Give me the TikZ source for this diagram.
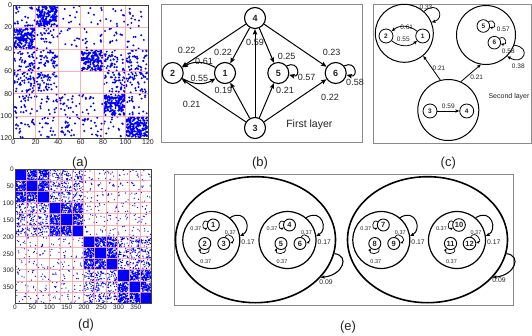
\documentclass[tikz,border=0pt]{standalone}
\usepackage{fontspec}
\setmainfont{Liberation Sans}
\usepackage{xcolor}
\usepackage{tikz}
\usetikzlibrary{arrows.meta,shapes.geometric}
\definecolor{DotBlue}{HTML}{0000FF}
\definecolor{GridRed}{HTML}{FF9C9C}
\definecolor{FrameGray}{HTML}{8A8A8A}
\definecolor{TextDark}{HTML}{222222}
\newcommand{\fsz}[1]{\fontsize{#1}{#1}\selectfont}

\begin{document}
\begin{tikzpicture}[x=1pt, y=1pt,
  every node/.style={text=TextDark},
  frame/.style={draw=FrameGray, line width=0.8pt},
  axis/.style={draw=black!75, line width=0.6pt},
  grid/.style={draw=GridRed, line width=0.6pt, draw opacity=0.8},
  tick/.style={font=\fsz{7}, inner sep=1pt},
  plab/.style={font=\fsz{13}},
  BN/.style={circle, draw, line width=1.1pt, minimum size=21pt,
             inner sep=0pt, font=\fsz{9}\bfseries},
  CG/.style={circle, draw, line width=1pt, inner sep=0pt},
  CN/.style={circle, draw, line width=0.8pt, minimum size=14pt,
             inner sep=0pt, font=\fsz{6.5}\bfseries},
  EE/.style={ellipse, draw, line width=1.6pt, minimum width=160pt,
             minimum height=126pt, inner sep=0pt},
  EG/.style={circle, draw, line width=1.2pt, minimum size=57pt, inner sep=0pt},
  EN/.style={circle, draw, line width=0.9pt, minimum size=12pt,
             inner sep=1pt, font=\fsz{7.5}\bfseries},
  arr/.style={-{Stealth[length=5.5pt,width=4.5pt,inset=1pt]}, line width=1pt},
  sarr/.style={-{Stealth[length=3.8pt,width=3.2pt,inset=0.6pt]}, line width=0.8pt},
  tarr/.style={-{Stealth[length=2.8pt,width=2.6pt,inset=0.4pt]}, line width=0.7pt},
  blab/.style={font=\fsz{9}},
  clab/.style={font=\fsz{6.5}},
  elab/.style={font=\fsz{6.8}},
  slab/.style={font=\fsz{5.5}, inner sep=0.5pt},
  dot/.style={fill=DotBlue},
]
  \useasboundingbox (0,0) rectangle (532,335);
  \pgfmathsetseed{17}

  % (a) block matrix, 6 x 6 blocks of 20
  \begin{scope}[shift={(13.3,330)}, x=1.1225pt, y=-1.1083pt]
    \foreach \row [count=\i from 0] in {{25,170,10,8,10,12},{170,25,12,12,12,10},
        {50,45,0,170,45,45},{50,50,0,0,45,45},{25,20,25,15,170,20},{20,20,25,20,15,170}} {
      \foreach \nd [count=\j from 0] in \row {
        \ifnum\nd>0
          \fill[dot] \foreach \k in {1,...,\nd}
            {({20*\j+0.6+18.8*rnd},{20*\i+0.6+18.8*rnd}) circle (1.1pt)};
        \fi
      }
    }
    \foreach \tk in {20,40,...,100} {
      \draw[grid] (\tk,0) -- (\tk,120);
      \draw[grid] (0,\tk) -- (120,\tk);
    }
    \draw[axis] (0,0) rectangle (120,120);
    \foreach \tk in {0,20,...,120} {
      \node[tick, anchor=east]  (ya\tk) at (0,\tk) {\tk};
      \node[tick, anchor=north] (xa\tk) at (\tk,120) {\tk};
    }
  \end{scope}
  \node[plab] (la) at (80,172) {(a)};

  % (b) first layer
  \draw[frame] (161,193) rectangle (362,331);
  \node[BN] (b4) at (255,317) {4};
  \node[BN] (b2) at (172.7,262) {2};
  \node[BN] (b1) at (225,262) {1};
  \node[BN] (b5) at (278.3,262) {5};
  \node[BN] (b6) at (335.7,262) {6};
  \node[BN] (b3) at (255,207) {3};

  \draw[arr] (b4) -- (b2);
  \draw[arr] (b4) -- (b1);
  \draw[arr] (b4) -- (b5);
  \draw[arr] (b4) -- (b6);
  \draw[arr] (b3) -- (b4);
  \draw[arr] (b3) -- (b2);
  \draw[arr] (b3) -- (b1);
  \draw[arr] (b3) -- (b5);
  \draw[arr] (b3) -- (b6);
  \draw[arr] (b1) to[bend right=30] (b2);
  \draw[arr] (b2) to[bend right=30] (b1);
  \draw[arr] (b5.40) .. controls +(12,6) and +(12,-3) .. (b5.-10);
  \draw[arr] (b6.40) .. controls +(12,6) and +(12,-3) .. (b6.-10);

  \node[blab] (w42) at (186.7,285) {0.22};
  \node[blab] (w12) at (204,274) {0.61};
  \node[blab] (w41) at (223,282.7) {0.22};
  \node[blab] (w34) at (255,292.7) {0.59};
  \node[blab] (w45) at (286.7,279) {0.25};
  \node[blab] (w46) at (331.7,282.3) {0.23};
  \node[blab] (w21) at (199.3,256.3) {0.55};
  \node[blab] (w55) at (306.7,257.3) {0.57};
  \node[blab] (w66) at (355,252.3) {0.58};
  \node[blab] (w31) at (223.3,244.3) {0.19};
  \node[blab] (w32) at (191.7,230.7) {0.21};
  \node[blab] (w35) at (285,244.3) {0.21};
  \node[blab] (w36) at (330,237.3) {0.22};
  \node[font=\fsz{10.5}] (tb) at (309.3,210.7) {First layer};
  \node[plab] (lb) at (260,172) {(b)};

  % (c) second layer
  \draw[frame] (373,192) rectangle (531,331);
  \node[CG, minimum size=58pt] (cA) at (404.3,301.7) {};
  \node[CG, minimum size=59pt] (cB) at (486,300) {};
  \node[CG, minimum size=61pt] (cC) at (448.3,225) {};
  \node[CN] (c2) at (386,299) {2};
  \node[CN] (c1) at (422.7,299) {1};
  \node[CN, minimum size=12.6pt] (c5) at (483.3,309) {5};
  \node[CN, minimum size=12.6pt] (c6) at (494.3,292.3) {6};
  \node[CN] (c3) at (430,224) {3};
  \node[CN] (c4) at (466.7,224) {4};

  \draw[sarr] (c1) to[bend right=40] (c2);
  \draw[sarr] (c2) to[bend right=40] (c1);
  \draw[sarr] (c3) -- (c4);
  \draw[tarr] (c5.40) .. controls +(7,4) and +(7,-2) .. (c5.-10);
  \draw[tarr] (c6.40) .. controls +(7,4) and +(7,-2) .. (c6.-10);
  \draw[sarr] (cA.48) .. controls +(14,12) and +(14,4) .. (cA.22);
  \draw[sarr] (cB.-20) .. controls +(18,-2) and +(16,-10) .. (cB.-45);
  \draw[sarr] (cC.105) -- (cA.-50);
  \draw[sarr] (cC.66) -- (cB.-100);

  \node[clab] (v12) at (406.7,307.3) {0.61};
  \node[clab] (v21) at (403.3,295.7) {0.55};
  \node[clab] (vA)  at (426,327.5) {0.33};
  \node[clab] (v55) at (503.3,305.7) {0.57};
  \node[clab] (v66) at (508.3,283.3) {0.58};
  \node[clab] (vB)  at (518.3,269) {0.38};
  \node[clab] (v34) at (448.3,228.3) {0.59};
  \node[clab] (vCA) at (439,266.7) {0.21};
  \node[clab] (vCB) at (476.7,257.3) {0.21};
  \node[font=\fsz{7}, inner sep=1pt] (tc) at (509,238.3) {Second layer};
  \node[plab] (lc) at (448.3,172) {(c)};

  % (d) block matrix, 12 x 12 blocks of 33
  \begin{scope}[shift={(15,166)}, x=0.3452pt, y=-0.3391pt]
    \foreach \i in {0,...,11} {
      \foreach \j in {0,...,11} {
        \ifnum\i=\j
          \fill[dot] (33*\j,33*\i) rectangle ++(33,33);
        \else
          \pgfmathtruncatemacro\nd{div(\i,3)==div(\j,3) ? 110 : (div(\i,6)==div(\j,6) ? 30 : 6)}
          \fill[dot] \foreach \k in {1,...,\nd}
            {({33*\j+1+31*rnd},{33*\i+1+31*rnd}) circle (0.65pt)};
        \fi
      }
    }
    \foreach \tk in {33,66,...,363} {
      \draw[grid] (\tk,0) -- (\tk,396);
      \draw[grid] (0,\tk) -- (396,\tk);
    }
    \draw[axis] (0,0) rectangle (396,396);
    \foreach \tk in {0,50,...,350} {
      \node[tick, font=\fsz{6.5}, anchor=east]  (yd\tk) at (0,\tk) {\tk};
      \node[tick, font=\fsz{6.5}, anchor=north] (xd\tk) at (\tk,396) {\tk};
    }
  \end{scope}
  \node[plab] (ld) at (86,10) {(d)};

  % (e) nested communities
  \draw[frame] (174,30) rectangle (513,161);
  \node[EE] (E1) at (255.5,95.3) {};
  \node[EE] (E2) at (427.5,95.3) {};
  \foreach \gi/\gx/\na/\nb/\nc in {1/211.3/1/2/3, 2/287.5/4/5/6, 3/381.3/7/8/9, 4/457/10/11/12} {
    \node[EG] (G\gi) at (\gx,95) {};
    \node[EN] (n\na) at ({\gx+2},110) {\na};
    \node[EN] (n\nb) at ({\gx-6.5},91.5) {\nb};
    \node[EN] (n\nc) at ({\gx+12.5},91.5) {\nc};
    \draw[tarr] (n\na.150) .. controls +(-6,4) and +(-6,-3) .. (n\na.205);
    \draw[tarr] (n\nb.-50) .. controls +(2,-7) and +(-3,-6) .. (n\nb.-130);
    \draw[tarr] (n\nc.80) .. controls +(4,7) and +(7,2) .. (n\nc.5);
    \draw[sarr, line width=1pt] (G\gi.50) .. controls +(16,10) and +(12,6) .. (G\gi.8);
    \node[slab] (p\na) at ({\gx-15.5},106) {0.37};
    \node[slab] (p\nb) at ({\gx-5.5},73.5) {0.37};
    \node[slab] (p\nc) at ({\gx+19},102.7) {0.37};
    \node[elab] (q\gi) at ({\gx+36.8},93) {0.17};
  }
  \draw[sarr, line width=1.1pt] (E1.-10) .. controls +(16,-2) and +(22,2) .. (E1.-30);
  \draw[sarr, line width=1.1pt] (E2.-10) .. controls +(16,-2) and +(22,2) .. (E2.-30);
  \node[elab] (r1) at (326,52.5) {0.09};
  \node[elab] (r2) at (499,54.5) {0.09};
  \node[plab] (le) at (348,8) {(e)};

\end{tikzpicture}
\end{document}
